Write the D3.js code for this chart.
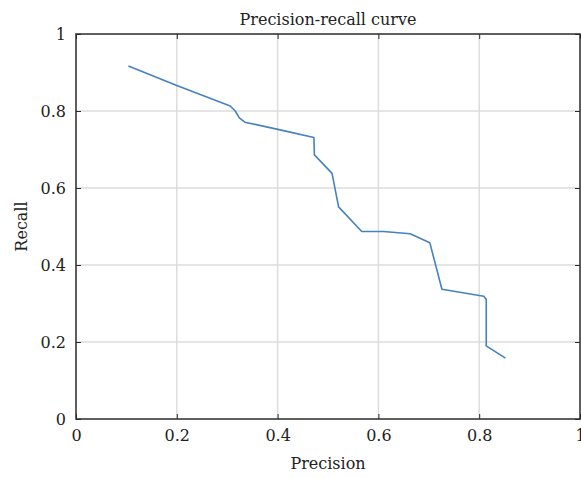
<!DOCTYPE html>
<html><head><meta charset="utf-8">
<script src="https://cdn.jsdelivr.net/npm/d3@7"></script>
<style>body{margin:0;background:#fff}svg{display:block}</style>
</head><body>
<svg id="c" width="581" height="478"></svg>
<script>
const precision = [0.104, 0.200, 0.306, 0.316, 0.324, 0.335, 0.405, 0.472, 0.473, 0.508, 0.521, 0.567, 0.610, 0.663, 0.702, 0.726, 0.809, 0.814, 0.814, 0.852];
const recall    = [0.917, 0.866, 0.813, 0.800, 0.782, 0.771, 0.751, 0.731, 0.686, 0.638, 0.551, 0.487, 0.487, 0.481, 0.458, 0.337, 0.319, 0.311, 0.190, 0.158];
const xTicks = [0, 0.2, 0.4, 0.6, 0.8, 1];
const yTicks = [0, 0.2, 0.4, 0.6, 0.8, 1];
const xTickLabels = ["0", "0.2", "0.4", "0.6", "0.8", "1"];
const yTickLabels = ["0", "0.2", "0.4", "0.6", "0.8", "1"];
const chartTitle = "Precision-recall curve";
const xLabel = "Precision";
const yLabel = "Recall";

const svg = d3.select("#c");
const L = 76, R = 580, T = 34, B = 419;
const x = d3.scaleLinear().domain([0, 1]).range([L, R]);
const y = d3.scaleLinear().domain([0, 1]).range([B, T]);
const font = "DejaVu Serif, serif";
const fs = 16;

// grid
const g = svg.append("g");
g.selectAll(".gx").data(xTicks.slice(1, -1)).join("line")
  .attr("x1", d => x(d)).attr("x2", d => x(d)).attr("y1", T).attr("y2", B)
  .attr("stroke", "#dcdcdc").attr("stroke-width", 1.5);
g.selectAll(".gy").data(yTicks.slice(1, -1)).join("line")
  .attr("y1", d => y(d)).attr("y2", d => y(d)).attr("x1", L).attr("x2", R)
  .attr("stroke", "#dcdcdc").attr("stroke-width", 1.5);

// curve
const pts = precision.map((p, i) => [p, recall[i]]);
svg.append("path").datum(pts)
  .attr("d", d3.line().x(d => x(d[0])).y(d => y(d[1])))
  .attr("fill", "none").attr("stroke", "#4682be").attr("stroke-width", 1.6)
  .attr("stroke-linejoin", "round");

// axes (inward ticks, box)
const axCol = "#2b2b2b";
const tl = 5;
const axB = svg.append("g").attr("transform", `translate(0,${B})`)
  .call(d3.axisBottom(x).tickValues(xTicks).tickSize(-tl).tickPadding(11).tickFormat((d, i) => xTickLabels[i]));
const axL = svg.append("g").attr("transform", `translate(${L},0)`)
  .call(d3.axisLeft(y).tickValues(yTicks).tickSize(-tl).tickPadding(10).tickFormat((d, i) => yTickLabels[i]));
const axT = svg.append("g").attr("transform", `translate(0,${T})`)
  .call(d3.axisTop(x).tickValues(xTicks).tickSize(-tl).tickFormat(""));
const axR = svg.append("g").attr("transform", `translate(${R},0)`)
  .call(d3.axisRight(y).tickValues(yTicks).tickSize(-tl).tickFormat(""));
[axB, axL, axT, axR].forEach(a => {
  a.attr("font-family", font).attr("font-size", fs);
  a.select(".domain").remove();
  a.selectAll(".tick line").attr("stroke", axCol).attr("stroke-width", 1);
  a.selectAll("text").attr("fill", "#222");
});
svg.append("rect").attr("x", L).attr("y", T).attr("width", R - L).attr("height", B - T)
  .attr("fill", "none").attr("stroke", axCol).attr("stroke-width", 1.5);

// labels
svg.append("text").attr("x", (L + R) / 2).attr("y", 25).attr("text-anchor", "middle")
  .attr("font-family", font).attr("font-size", fs).attr("fill", "#222").text(chartTitle);
svg.append("text").attr("x", (L + R) / 2).attr("y", 469).attr("text-anchor", "middle")
  .attr("font-family", font).attr("font-size", fs).attr("fill", "#222").text(xLabel);
svg.append("text").attr("transform", `translate(27,${(T + B) / 2}) rotate(-90)`).attr("text-anchor", "middle")
  .attr("font-family", font).attr("font-size", fs).attr("fill", "#222").text(yLabel);
</script>
</body></html>
